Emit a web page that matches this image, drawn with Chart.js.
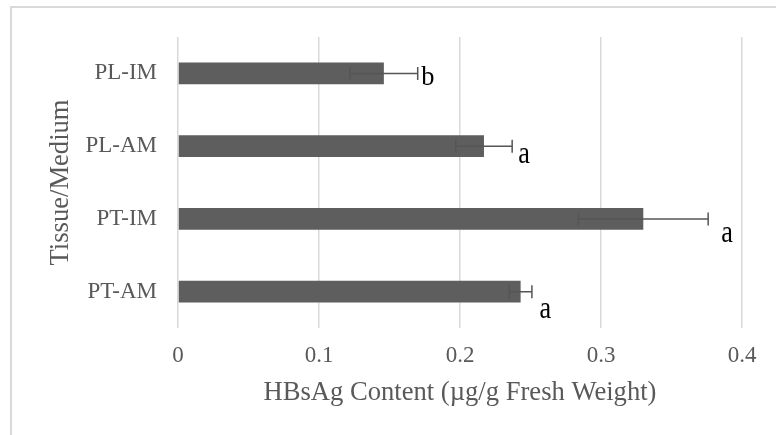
<!DOCTYPE html>
<html>
<head>
<meta charset="utf-8">
<script src="https://cdn.jsdelivr.net/npm/chart.js@4.4.1/dist/chart.umd.min.js"></script>
<style>
html,body{margin:0;padding:0;background:#fff;}
#wrap{width:776px;height:435px;position:relative;}
</style>
</head>
<body>
<div id="wrap"><canvas id="c" width="776" height="435"></canvas></div>
<script>
// ---- data ----
const categories = ['PL-IM', 'PL-AM', 'PT-IM', 'PT-AM'];
const meanValues = [0.146, 0.217, 0.330, 0.243];
const errorValues = [0.024, 0.020, 0.046, 0.008];
const sigLetters = ['b', 'a', 'a', 'a'];
const xTickLabels = ['0', '0.1', '0.2', '0.3', '0.4'];

// ---- styles ----
const letterStyle = [
  {dx: 3.5, dy: 11.5, size: 27, sx: 0.98},
  {dx: 6, dy: 17, size: 32, sx: 0.82},
  {dx: 13, dy: 23, size: 32, sx: 0.82},
  {dx: 7.5, dy: 26, size: 32, sx: 0.82}
];

const framePlugin = {
  id: 'frame',
  beforeDraw(chart) {
    const ctx = chart.ctx;
    ctx.save();
    ctx.fillStyle = '#ffffff';
    ctx.fillRect(0, 0, chart.width, chart.height);
    ctx.strokeStyle = '#d9d9d9';
    ctx.lineWidth = 2;
    ctx.beginPath();
    ctx.moveTo(chart.width, 7);
    ctx.lineTo(11, 7);
    ctx.lineTo(11, chart.height);
    ctx.stroke();
    ctx.restore();
  }
};

const errorBarPlugin = {
  id: 'errbars',
  afterDatasetsDraw(chart) {
    const ctx = chart.ctx;
    const xs = chart.scales.x;
    const meta = chart.getDatasetMeta(0);
    ctx.save();
    ctx.strokeStyle = '#555555';
    ctx.lineWidth = 1.5;
    meta.data.forEach((bar, i) => {
      const lo = xs.getPixelForValue(meanValues[i] - errorValues[i]);
      const hi = xs.getPixelForValue(meanValues[i] + errorValues[i]);
      const y = bar.y;
      const cap = 6.5;
      ctx.beginPath();
      ctx.moveTo(lo, y); ctx.lineTo(hi, y);
      ctx.moveTo(lo, y - cap); ctx.lineTo(lo, y + cap);
      ctx.moveTo(hi, y - cap); ctx.lineTo(hi, y + cap);
      ctx.stroke();
    });
    // significance letters
    ctx.fillStyle = '#000000';
    ctx.textAlign = 'left';
    ctx.textBaseline = 'alphabetic';
    meta.data.forEach((bar, i) => {
      const st = letterStyle[i];
      const hi = xs.getPixelForValue(meanValues[i] + errorValues[i]);
      ctx.save();
      ctx.translate(hi + st.dx, bar.y + st.dy);
      ctx.scale(st.sx, 1);
      ctx.font = st.size + 'px "Liberation Serif"';
      ctx.fillText(sigLetters[i], 0, 0);
      ctx.restore();
    });
    ctx.restore();
  }
};

new Chart(document.getElementById('c'), {
  type: 'bar',
  data: {
    labels: categories,
    datasets: [{
      data: meanValues,
      backgroundColor: '#5e5e5e',
      borderWidth: 0,
      barPercentage: 0.3,
      categoryPercentage: 1.0
    }]
  },
  options: {
    indexAxis: 'y',
    responsive: false,
    animation: false,
    devicePixelRatio: 1,
    layout: {padding: {top: 37, right: 34, left: 0, bottom: 0}},
    plugins: {legend: {display: false}, tooltip: {enabled: false}},
    scales: {
      x: {
        min: 0, max: 0.4,
        afterFit(scale) { scale.height = 107; },
        ticks: {
          stepSize: 0.1,
          padding: 14,
          color: '#595959',
          font: {family: 'Liberation Serif', size: 23},
          callback: (v, i) => xTickLabels[i]
        },
        grid: {color: '#d9d9d9', lineWidth: 1.5, drawTicks: false},
        border: {display: false},
        title: {
          display: true,
          text: 'HBsAg Content (µg/g Fresh Weight)',
          color: '#595959',
          font: {family: 'Liberation Serif', size: 26.6},
          padding: {top: 0, bottom: 26}
        }
      },
      y: {
        afterFit(scale) { scale.width = 178; },
        ticks: {
          padding: 21,
          color: '#595959',
          font: {family: 'Liberation Serif', size: 23}
        },
        grid: {display: false, drawTicks: false},
        border: {display: false},
        title: {
          display: true,
          text: 'Tissue/Medium',
          color: '#595959',
          font: {family: 'Liberation Serif', size: 26.6},
          padding: {top: 45, bottom: 0}
        }
      }
    }
  },
  plugins: [framePlugin, errorBarPlugin]
});
</script>
</body>
</html>
